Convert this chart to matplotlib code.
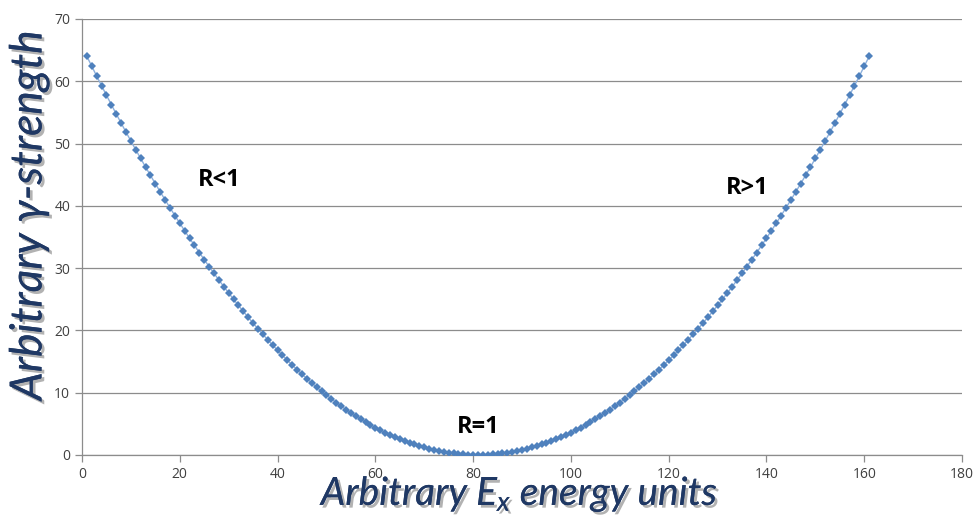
import matplotlib
matplotlib.use("Agg")
import matplotlib.pyplot as plt
import matplotlib.patheffects as pe

# energy grid (arbitrary units) and gamma strength
energy = list(range(1, 162))
strength = [
    64.00, 62.41, 60.84, 59.29, 57.76, 56.25, 54.76, 53.29, 51.84, 50.41,
    49.00, 47.61, 46.24, 44.89, 43.56, 42.25, 40.96, 39.69, 38.44, 37.21,
    36.00, 34.81, 33.64, 32.49, 31.36, 30.25, 29.16, 28.09, 27.04, 26.01,
    25.00, 24.01, 23.04, 22.09, 21.16, 20.25, 19.36, 18.49, 17.64, 16.81,
    16.00, 15.21, 14.44, 13.69, 12.96, 12.25, 11.56, 10.89, 10.24, 9.61,
    9.00, 8.41, 7.84, 7.29, 6.76, 6.25, 5.76, 5.29, 4.84, 4.41,
    4.00, 3.61, 3.24, 2.89, 2.56, 2.25, 1.96, 1.69, 1.44, 1.21,
    1.00, 0.81, 0.64, 0.49, 0.36, 0.25, 0.16, 0.09, 0.04, 0.01,
    0.00,
    0.01, 0.04, 0.09, 0.16, 0.25, 0.36, 0.49, 0.64, 0.81, 1.00,
    1.21, 1.44, 1.69, 1.96, 2.25, 2.56, 2.89, 3.24, 3.61, 4.00,
    4.41, 4.84, 5.29, 5.76, 6.25, 6.76, 7.29, 7.84, 8.41, 9.00,
    9.61, 10.24, 10.89, 11.56, 12.25, 12.96, 13.69, 14.44, 15.21, 16.00,
    16.81, 17.64, 18.49, 19.36, 20.25, 21.16, 22.09, 23.04, 24.01, 25.00,
    26.01, 27.04, 28.09, 29.16, 30.25, 31.36, 32.49, 33.64, 34.81, 36.00,
    37.21, 38.44, 39.69, 40.96, 42.25, 43.56, 44.89, 46.24, 47.61, 49.00,
    50.41, 51.84, 53.29, 54.76, 56.25, 57.76, 59.29, 60.84, 62.41, 64.00,
]
x_ticks = [0, 20, 40, 60, 80, 100, 120, 140, 160, 180]
y_ticks = [0, 10, 20, 30, 40, 50, 60, 70]
regions = ["R<1", "R=1", "R>1"]
region_pos = [(28, 44.2), (81, 4.5), (136, 42.9)]

plt.rcParams['font.family'] = ['Open Sans', 'DejaVu Sans']
plt.rcParams['mathtext.fontset'] = 'custom'
plt.rcParams['mathtext.it'] = 'Lato:italic'
plt.rcParams['mathtext.rm'] = 'Lato'

fig = plt.figure(figsize=(9.76, 5.2), dpi=100)
ax = fig.add_axes([0.084, 0.125, 0.9017, 0.8385])

# connecting line, then the diamond markers
ax.plot(energy, strength, color='#8DB0DC', linewidth=1.0, zorder=3)
ax.plot(energy, strength, linestyle='none', marker='D', markersize=3.6,
        color='#4F81BD', markeredgewidth=0, zorder=4)

ax.set_xlim(0, 180)
ax.set_ylim(0, 70)
ax.set_xticks(x_ticks)
ax.set_yticks(y_ticks)
ax.grid(axis='y', color='#8C8C8C', linewidth=0.9)
ax.set_axisbelow(True)
for side in ['top', 'right']:
    ax.spines[side].set_visible(False)
for side in ['left', 'bottom']:
    ax.spines[side].set_color('#8C8C8C')
    ax.spines[side].set_linewidth(0.9)
ax.tick_params(axis='both', length=5, width=0.9, color='#8C8C8C',
               labelcolor='#404040', labelsize=10)

shadow = [pe.withSimplePatchShadow(offset=(2, -2), shadow_rgbFace='#7F7F7F', alpha=0.6),
          pe.Normal()]
label_font = ['Lato', 'Open Sans', 'DejaVu Sans']
fig.text(520 / 976, 1 - 505 / 520, r"Arbitrary $\mathit{E}_\mathit{x}$ energy units",
         fontsize=28, style='italic', color='#1F3864', family=label_font,
         ha='center', va='baseline', path_effects=shadow)
fig.text(29 / 976, 1 - 215 / 520, "Arbitrary γ-strength", rotation=90,
         fontsize=32, style='italic', color='#1F3864', family=label_font,
         ha='center', va='center', path_effects=shadow)

for label, (tx, ty) in zip(regions, region_pos):
    ax.text(tx, ty, label, fontsize=17, fontweight='bold', color='black',
            ha='center', va='center')

fig.savefig("out.png", dpi=100)
